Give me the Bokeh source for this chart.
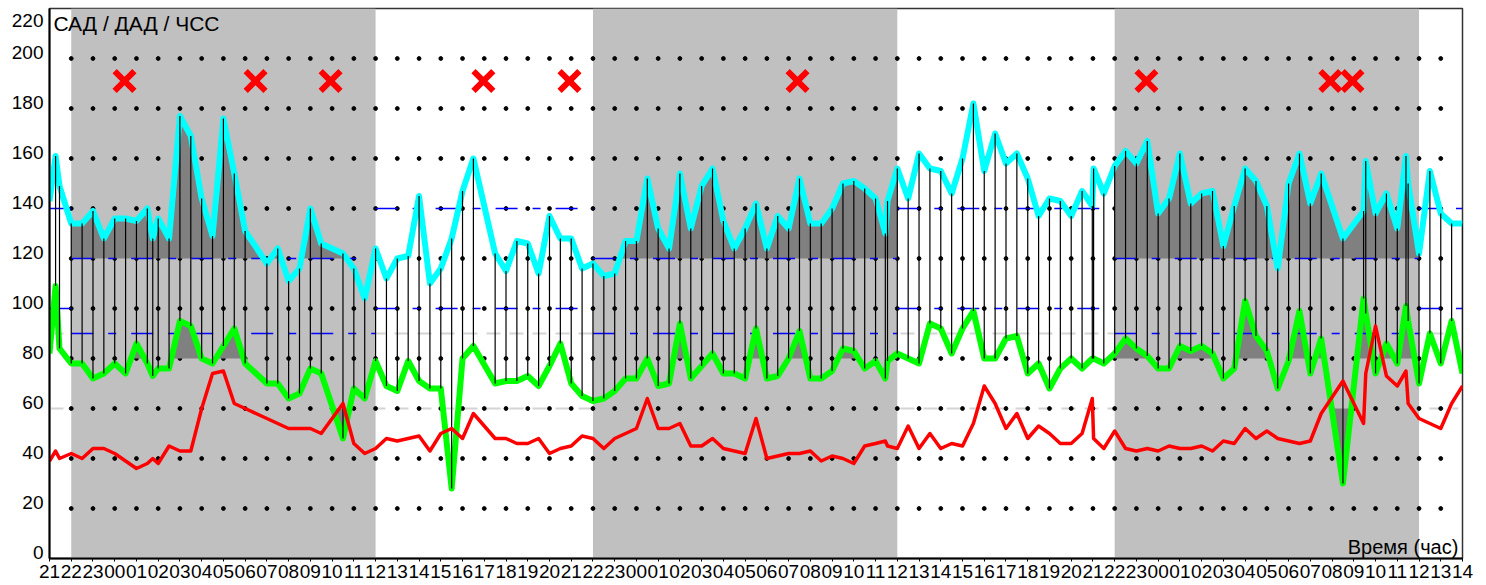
import numpy as np
from bokeh.plotting import figure
from bokeh.models import Range1d, FixedTicker
from bokeh.embed import file_html
from bokeh.resources import INLINE
from bokeh.core.properties import value

# ---- data (hours counted from 21:00 of the first day) ----
hours = [0.0, 0.28, 0.46, 1.0, 1.5, 2.0, 2.5, 3.0, 3.5, 4.0, 4.5, 4.75, 5.0,
         5.5, 6.0, 6.5, 7.0, 7.5, 8.0, 8.5, 9.0, 10.0, 10.5, 11.0, 11.5, 12.0, 12.5,
         13.5, 14.0, 14.5, 15.0, 15.5, 16.0, 16.5, 17.0, 17.5, 18.0, 18.5, 19.0, 19.5,
         20.5, 21.0, 21.5, 22.0, 22.5, 23.0, 23.5, 24.0, 24.5, 25.0, 25.5, 26.0, 26.5,
         27.0, 27.5, 28.0, 28.5, 29.0, 29.5, 30.0, 30.5, 31.0, 31.5, 32.0, 32.5, 33.0,
         33.5, 34.0, 34.5, 35.0, 35.5, 36.0, 36.5, 37.0, 37.5, 38.0, 38.45, 38.55,
         39.0, 39.5, 40.0, 40.5, 41.0, 41.5, 42.0, 42.5, 43.0, 43.5, 44.0, 44.5, 45.0,
         45.5, 46.0, 46.5, 47.0, 47.5, 47.97, 48.03, 48.5, 49.0, 49.5, 50.0, 50.5,
         51.0, 51.5, 52.0, 52.5, 53.0, 53.5, 54.0, 54.5, 55.0, 55.5, 56.0, 56.5, 57.0,
         57.5, 58.0, 58.5, 59.5, 60.45, 60.55, 61.0, 61.5, 62.0, 62.4, 62.5, 63.0,
         63.5, 64.0, 64.5, 65.0]

sad = [143, 161, 149, 134, 134, 139, 128, 136, 136, 135, 140, 128, 136,
       128, 177, 169, 144, 129, 176, 154, 131, 118, 124, 111, 116, 140, 126,
       122, 116, 104, 124, 112, 120, 121, 145, 110, 116, 128, 147, 160,
       122, 115, 127, 126, 114, 137, 128, 128, 116, 118, 113, 114, 127,
       127, 152, 132, 124, 154, 132, 149, 156, 135, 124, 132, 142, 124,
       137, 132, 152, 134, 134, 140, 150, 151, 148, 144, 130, 143,
       156, 144, 162, 156, 155, 146, 160, 182, 155, 170, 158, 162, 152,
       137, 144, 143, 137, 147, 141, 156, 146, 157, 163, 158, 167,
       138, 144, 162, 142, 146, 147, 125, 141, 156, 151, 141, 116, 150,
       162, 142, 154, 128, 139, 159, 138, 146, 132, 161, 150, 122,
       155, 138, 134, 134]

dad = [82, 109, 84, 78, 78, 72, 74, 78, 74, 86, 78, 73, 76,
       76, 95, 93, 80, 78, 85, 92, 78, 70, 70, 64, 66, 76, 74,
       48, 68, 64, 79, 69, 67, 79, 71, 68, 68, 28, 80, 85,
       70, 71, 71, 73, 69, 77, 86, 70, 65, 63, 64, 67, 72,
       72, 80, 69, 70, 94, 72, 77, 82, 74, 74, 72, 92, 72,
       73, 80, 91, 72, 72, 75, 84, 83, 76, 79, 72, 79,
       82, 80, 78, 94, 92, 82, 92, 99, 80, 80, 88, 89, 74,
       78, 68, 76, 80, 76, 80, 80, 78, 82, 88, 84, 81,
       76, 76, 85, 83, 85, 82, 72, 76, 103, 89, 83, 68, 79,
       99, 74, 88, 30, 104, 98, 74, 86, 78, 101, 95, 70,
       90, 78, 95, 74]

hr = [39, 43, 40, 42, 40, 44, 44, 42, 39, 36, 38, 40, 38,
      45, 43, 43, 60, 74, 75, 62, 60, 56, 54, 52, 52, 52, 50,
      62, 46, 42, 44, 48, 47, 48, 49, 43, 50, 52, 48, 58,
      48, 48, 46, 46, 48, 42, 44, 45, 49, 48, 44, 48, 50,
      52, 64, 52, 52, 54, 45, 45, 48, 44, 43, 42, 56, 40,
      41, 42, 42, 43, 39, 41, 40, 38, 45, 46, 47, 45,
      44, 53, 44, 50, 44, 46, 45, 54, 69, 62, 52, 58, 48,
      53, 50, 46, 46, 50, 64, 48, 44, 51, 44, 43, 44,
      43, 45, 44, 44, 45, 43, 47, 46, 52, 48, 51, 48, 47,
      46, 47, 58, 71, 54, 74, 93, 73, 69, 75, 62, 56,
      54, 52, 62, 69]

error_hours = [3.45, 9.48, 12.93, 19.96, 23.92, 34.41, 50.46, 58.92, 59.94]
error_level = 191

night_start = [1, 25, 49]
night_end = [15, 39, 63]
day_start = [0, 15, 39, 63]
day_end = [1, 25, 49, 65]

day_limits = [140, 100]
night_limits = [120, 90]
night_sad_fill = 120
night_dad_fill_high = 80
night_dad_fill_low = 60
ref_lines = [60, 90]

hour_labels = ["21", "22", "23", "00", "01", "02", "03", "04", "05", "06", "07",
               "08", "09", "10", "11", "12", "13", "14", "15", "16", "17", "18",
               "19", "20", "21", "22", "23", "00", "01", "02", "03", "04", "05",
               "06", "07", "08", "09", "10", "11", "12", "13", "14", "15", "16",
               "17", "18", "19", "20", "21", "22", "23", "00", "01", "02", "03",
               "04", "05", "06", "07", "08", "09", "10", "11", "12", "13", "14"]
y_ticks = [0, 20, 40, 60, 80, 100, 120, 140, 160, 180, 200, 220]
y_labels = ["0", "20", "40", "60", "80", "100", "120", "140", "160", "180", "200", "220"]

FONT = "Liberation Sans"

p = figure(frame_width=1413, frame_height=550,
           x_range=Range1d(0, 65), y_range=Range1d(0, 220),
           output_backend="svg", toolbar_location=None,
           min_border_left=49, min_border_top=8, min_border_right=14,
           min_border_bottom=0)
p.xgrid.grid_line_color = None
p.ygrid.grid_line_color = None
p.background_fill_color = "white"
p.border_fill_color = "white"
p.outline_line_color = "#333333"
p.outline_line_width = 1.5

# x axis
p.xaxis.ticker = FixedTicker(ticks=list(range(len(hour_labels))))
p.xaxis.major_label_overrides = {i: s for i, s in enumerate(hour_labels)}
p.xaxis.major_label_text_font = FONT
p.xaxis.major_label_text_font_size = "19px"
p.xaxis.major_label_text_color = "black"
p.xaxis.major_label_standoff = 3
p.xaxis.major_tick_out = 3
p.xaxis.major_tick_in = 0
p.xaxis.minor_tick_line_color = None
p.xaxis.axis_line_width = 2
p.xaxis.axis_line_color = "black"

# y axis: labels drawn slightly above their values, as in the original
lab_pos = [v + 2.4 for v in y_ticks[:-1]] + [y_ticks[-1] - 4.8]
p.yaxis.ticker = FixedTicker(ticks=lab_pos)
p.yaxis.major_label_overrides = {lp: s for lp, s in zip(lab_pos, y_labels)}
p.yaxis.major_label_text_font = FONT
p.yaxis.major_label_text_font_size = "19px"
p.yaxis.major_label_text_color = "black"
p.yaxis.major_label_standoff = 6
p.yaxis.major_tick_line_color = None
p.yaxis.major_tick_out = 0
p.yaxis.major_tick_in = 0
p.yaxis.minor_tick_line_color = None
p.yaxis.axis_line_width = 2
p.yaxis.axis_line_color = "black"

# light reference lines
for lv in ref_lines:
    p.line([0, 64.8], [lv, lv], line_color="#d4d4d4", line_width=2, line_dash="14 9")

# night bands
p.quad(left=night_start, right=night_end, bottom=0, top=220,
       fill_color="#c0c0c0", line_color=None)

# dot grid
gx, gy = np.meshgrid(np.arange(1, 65), np.arange(20, 201, 20))
p.scatter(gx.ravel(), gy.ravel(), size=3.8, color="black", marker="circle")


def clipped_fill(t, v, a, b, thr, above=True):
    t = np.asarray(t, float)
    v = np.asarray(v, float)
    xs = [a] + [x for x in t if a < x < b] + [b]
    vs = list(np.interp(xs, t, v))
    ox, ov = [], []
    for i in range(len(xs)):
        if i > 0:
            v0, v1 = vs[i - 1], vs[i]
            if (v0 - thr) * (v1 - thr) < 0:
                tc = xs[i - 1] + (thr - v0) / (v1 - v0) * (xs[i] - xs[i - 1])
                ox.append(tc)
                ov.append(thr)
        ox.append(xs[i])
        ov.append(vs[i])
    ov = np.array(ov)
    if above:
        return ox, np.full(len(ov), thr), np.maximum(ov, thr)
    return ox, np.minimum(ov, thr), np.full(len(ov), thr)


for a, b in zip(night_start, night_end):
    for series, thr, above in [(sad, night_sad_fill, True),
                               (dad, night_dad_fill_high, True),
                               (dad, night_dad_fill_low, False)]:
        fx, f1, f2 = clipped_fill(hours, series, a, b, thr, above)
        p.varea(x=fx, y1=f1, y2=f2, fill_color="#808080")

# limit lines (blue dashed)
bxs, bys = [], []
for a, b in zip(day_start, day_end):
    for lv in day_limits:
        bxs.append([a, b]); bys.append([lv, lv])
for a, b in zip(night_start, night_end):
    for lv in night_limits:
        bxs.append([a, b]); bys.append([lv, lv])
p.multi_line(bxs, bys, line_color="#0000ff", line_width=1.5, line_dash="22 15 8 15")

# SAD / DAD lines
p.line(hours, sad, line_color="#00ffff", line_width=6, line_join="round")
p.line(hours, dad, line_color="#00ff00", line_width=6, line_join="round")

# vertical measurement bars
p.segment(x0=hours, y0=dad, x1=hours, y1=sad, line_color="black", line_width=1.2)

# heart rate
p.line(hours, hr, line_color="#ff0000", line_width=3.5, line_join="round")

# failed measurements
p.scatter(error_hours, [error_level] * len(error_hours), marker="x", size=28,
          line_color="#ff0000", line_width=6)

# texts
p.text(x=[0.18], y=[218.8], text=["САД / ДАД / ЧСС"], text_font=value(FONT),
       text_font_size="21px", text_baseline="top", text_align="left", text_color="black")
p.text(x=[64.81], y=[4.6], text=["Время (час)"], text_font=value(FONT),
       text_font_size="20px", text_baseline="alphabetic", text_align="right", text_color="black")

open("out.html", "w").write(file_html(p, INLINE))
